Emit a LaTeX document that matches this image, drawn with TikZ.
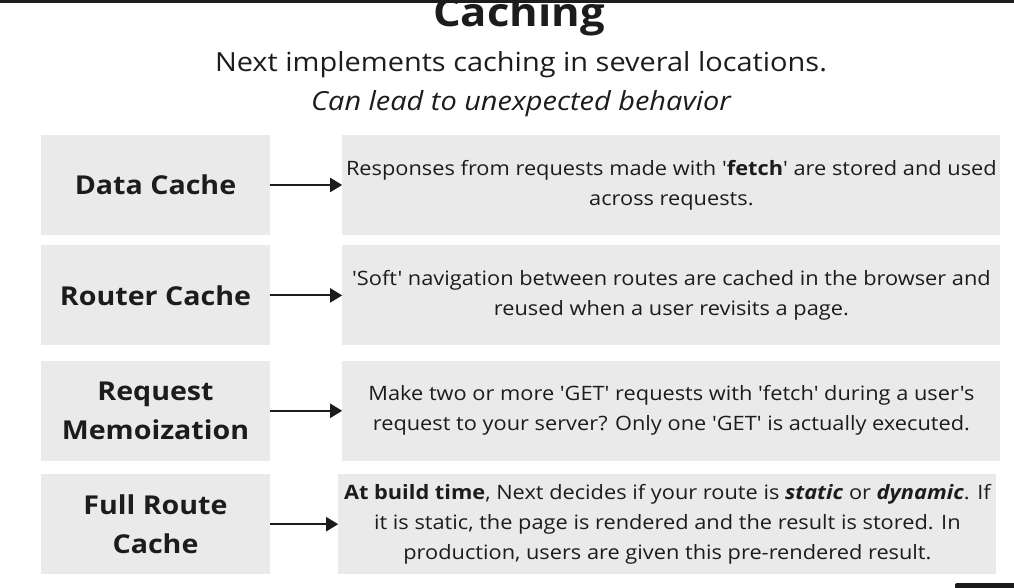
\documentclass[tikz,border=0pt]{standalone}
\usepackage{fontspec}
\setmainfont{Open Sans}[FakeStretch=1.1, Ligatures=TeXOff]
\usetikzlibrary{arrows.meta,positioning}
\definecolor{boxgray}{RGB}{234,234,234}
\definecolor{inkgray}{RGB}{28,28,28}

\begin{document}
\begin{tikzpicture}[
    x=1pt, y=1pt,
    node distance=10pt,
    >={Triangle[length=12pt,width=14pt]},
    font=\fontsize{19.8}{30}\selectfont,
    text=inkgray,
    cache/.style={
		rectangle,
		fill=boxgray,
		inner sep=0pt,
		minimum width=229pt,
		minimum height=100pt,
		align=center,
		font=\fontsize{26}{39}\selectfont\bfseries
	},
	desc/.style={
		rectangle,
		fill=boxgray,
		inner sep=0pt,
		minimum width=658pt,
		minimum height=100pt,
		align=center
	},
	link/.style={
		->,
		line width=2pt,
		draw=inkgray
	}
  ]
  \useasboundingbox (0,0) rectangle (1014,587);
  % window edges
  \fill [inkgray] (0,584) rectangle (1014,587);

  % heading
  \node [anchor=base, font=\fontsize{39.6}{48}\selectfont\bfseries] (title) at (519,560) {Caching};
  \node [anchor=base, font=\fontsize{26.3}{34}\selectfont] (subtitle) at (521,515) {Next implements caching in several locations.};
  \node [anchor=base, font=\fontsize{26.3}{34}\selectfont\itshape] (warning) at (521,476) {Can lead to unexpected behavior};

  % the caches on the left
  \node [cache] (datacache) at (155.5,402) {Data Cache};
  \node [cache, below=10pt of datacache] (routercache) {Router Cache};
  \node [cache, below=15pt of routercache] (memo) {Request\\Memoization};
  \node [cache, below=13pt of memo] (fullroute) {Full Route\\Cache};

  % what each one does
  \node [desc, right=72pt of datacache] (datadesc)
 {Responses from requests made with '\textbf{fetch}' are stored and used\\
  across requests.};
  \node [desc, right=72pt of routercache] (routerdesc)
 {'Soft' navigation between routes are cached in the browser and\\
  reused when a user revisits a page.};
  \node [desc, right=72pt of memo] (memodesc)
 {Make two or more 'GET' requests with 'fetch' during a user's\\
  request to your server? Only one 'GET' is actually executed.};
  \node [desc, right=68pt of fullroute] (fullroutedesc)
 {\textbf{At build time}, Next decides if your route is \textbf{\textit{static}} or \textbf{\textit{dynamic}}. If\\
  it is static, the page is rendered and the result is stored. In\\
  production, users are given this pre-rendered result.};

 \draw [link] (datacache) -- (datadesc);
 \draw [link] (routercache) -- (routerdesc);
 \draw [link] (memo) -- (memodesc);
 \draw [link] (fullroute) -- (fullroutedesc);

  \fill [inkgray, rounded corners=2pt] (955,-2) rectangle (1016,4);
\end{tikzpicture}
\end{document}
